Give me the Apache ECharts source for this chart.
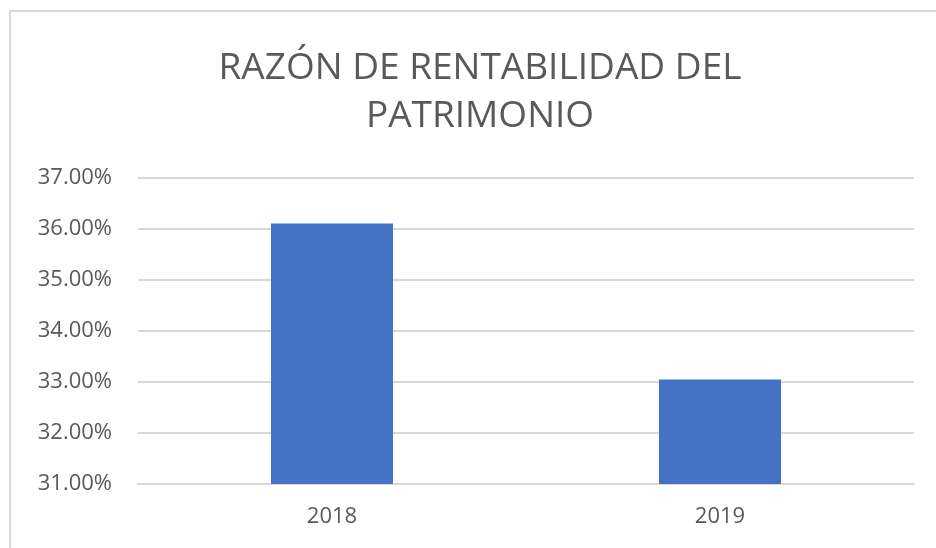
<!DOCTYPE html>
<html>
<head>
<meta charset="utf-8">
<script src="https://cdn.jsdelivr.net/npm/echarts@6/dist/echarts.min.js"></script>
<style>
  body { margin: 0; background: #fff; }
  #wrap { position: relative; width: 936px; height: 548px; overflow: hidden; }
  #frame { position: absolute; left: 9px; top: 10px; right: -10px; bottom: -10px;
           border-left: 2px solid #d9d9d9; border-top: 2px solid #d9d9d9; pointer-events: none; }
  #chart { position: absolute; left: 0; top: 0; width: 936px; height: 548px; }
</style>
</head>
<body>
<div id="wrap">
  <div id="chart"></div>
  <div id="frame"></div>
</div>
<script>
// datos (porcentaje)
const years = ["2018", "2019"];
const rentabilidad = [36.11, 33.05];

const chart = echarts.init(document.getElementById("chart"));
chart.setOption({
  animation: false,
  title: {
    text: "RAZÓN DE RENTABILIDAD DEL\nPATRIMONIO",
    left: 475,
    top: 39,
    textAlign: "center",
    textStyle: {
      fontFamily: "Open Sans",
      fontWeight: "normal",
      fontSize: 37,
      lineHeight: 48,
      color: "#595959",
    },
  },
  grid: {
    left: 138,
    right: 22,
    top: 178,
    bottom: 64,
  },
  xAxis: {
    type: "category",
    data: years,
    axisLine: { lineStyle: { color: "#d9d9d9", width: 2 } },
    axisTick: { show: false },
    axisLabel: {
      margin: 22,
      fontFamily: "Open Sans",
      fontSize: 22,
      color: "#595959",
    },
  },
  yAxis: {
    type: "value",
    min: 31,
    max: 37,
    interval: 1,
    axisLine: { show: false },
    axisTick: { show: false },
    splitLine: { lineStyle: { color: "#d9d9d9", width: 2 } },
    axisLabel: {
      margin: 26,
      fontFamily: "Open Sans",
      fontSize: 22,
      color: "#595959",
      formatter: function (v) {
        return v.toFixed(2) + "%";
      },
    },
  },
  series: [
    {
      type: "bar",
      data: rentabilidad,
      barWidth: 122,
      itemStyle: { color: "#4472c4" },
    },
  ],
});
</script>
</body>
</html>
